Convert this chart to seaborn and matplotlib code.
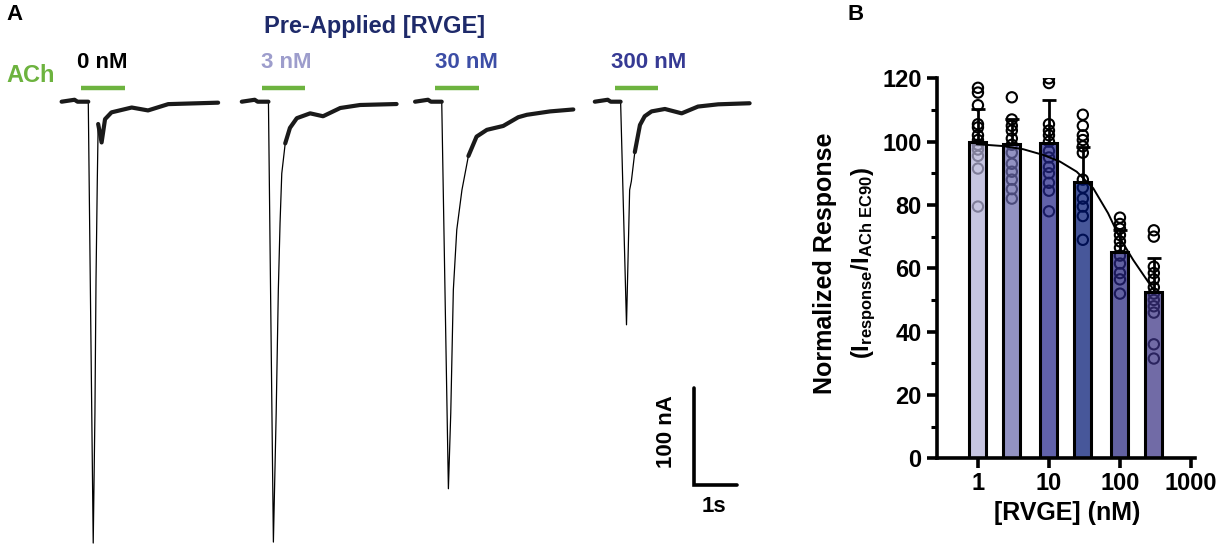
import numpy as np
import pandas as pd
import matplotlib
matplotlib.use("Agg")
import matplotlib.pyplot as plt
import matplotlib.ticker as mticker
import seaborn as sns

# ---------------- data : panel A (voltage-clamp traces) ----------------
# time (s) from start of each sweep, current (nA) relative to baseline
trace_labels = ["0 nM", "3 nM", "30 nM", "300 nM"]
trace_t = [
    [0, 0.30, 0.37, 0.62, 0.735, 0.775, 0.80, 0.83, 0.85, 0.93, 1.01, 1.16, 1.63, 2.01, 2.48, 3.64],
    [0, 0.30, 0.37, 0.62, 0.735, 0.80, 0.85, 0.89, 0.93, 1.01, 1.12, 1.28, 1.59, 1.89, 2.29, 2.75, 3.60],
    [0, 0.30, 0.37, 0.62, 0.775, 0.83, 0.89, 0.97, 1.09, 1.24, 1.43, 1.67, 2.05, 2.40, 2.60, 3.14, 3.68],
    [0, 0.30, 0.37, 0.60, 0.737, 0.81, 0.85, 0.93, 1.05, 1.16, 1.32, 1.63, 2.02, 2.40, 2.87, 3.60],
]
trace_i = [
    [0, 2, 0, 0, -455, -321, -184, -81, -23, -42, -18, -11, -6, -9, -2.5, -1],
    [0, 2, 0, 0, -454, -321, -194, -125, -74, -43, -27, -17, -12, -15, -6.5, -3.4, -2.4],
    [0, 2, 0, 0, -399, -321, -194, -132, -91, -56, -36, -29, -25, -16, -13.5, -10, -8],
    [0, 2, 0, 0, -230, -91, -82, -52, -24, -15, -10, -7.5, -12, -5, -2.7, -1.6],
]
ach_on, ach_off = 0.46, 1.48          # ACh application (s)
scale_nA, scale_s = 100, 1

# ---------------- data : panel B (concentration-response) ----------------
conc = [1, 3, 10, 30, 100, 300]
mean_resp = [100.0, 99.2, 99.5, 87.2, 65.0, 52.5]
sd_resp = [10.2, 8.0, 13.6, 11.0, 7.0, 10.7]
pts_1 = [117, 115.5, 111.5, 105.5, 104.5, 102, 100.5, 99, 97.5, 95.5, 91.5, 79.5]
pts_3 = [114, 107, 105, 103.5, 101, 99, 96.5, 93, 90.5, 88, 85, 82]
pts_10 = [120, 118.5, 105.5, 103.5, 102, 100, 97, 95, 92, 90, 87, 84.5, 78]
pts_30 = [108.5, 105, 102, 100.5, 98.5, 96.5, 88, 85.5, 82, 79.5, 76.5, 69]
pts_100 = [76, 74, 72.5, 70.5, 68.5, 66.5, 64, 61.5, 58.5, 56.5, 52]
pts_300 = [72, 70, 60.5, 58.5, 56.5, 54, 52, 50, 48, 46, 36, 31.5]
fit_x = [0.96, 2.27, 4.35, 8.3, 14.3, 24.6, 42, 68, 100, 154, 300]
fit_y = [99.2, 98.6, 97.6, 95.8, 93.7, 90.5, 85.3, 77.4, 69.5, 62.6, 53.1]

bar_colors = ["#c3c1e6", "#8a8acb", "#5557b6", "#3150aa", "#5856ae", "#6a62b0"]
label_colors = ["#000000", "#9d9dcc", "#3d4ea6", "#363a94"]
green = "#6db33f"
navy = "#1e2a6a"

# ---------------- style ----------------
sns.set_theme(style="ticks")
plt.rcParams["font.family"] = ["Liberation Sans", "DejaVu Sans"]
plt.rcParams["font.weight"] = "bold"
plt.rcParams["mathtext.fontset"] = "custom"
plt.rcParams["mathtext.rm"] = "Liberation Sans:bold"
plt.rcParams["mathtext.it"] = "Liberation Sans:bold"
plt.rcParams["mathtext.default"] = "rm"
for key in ["text.color", "axes.labelcolor", "xtick.color", "ytick.color", "axes.edgecolor"]:
    plt.rcParams[key] = "black"

W, H = 1226, 548
fig = plt.figure(figsize=(W / 100, H / 100), dpi=100)


def fx(px):
    return px / W


def fy(py):
    return 1 - py / H


# ================= Panel A =================
px_per_s, px_per_nA = 43.0, 0.97
a_left, a_right, a_top = 50, 760, 80
base_py = 101.7
axA = fig.add_axes([fx(a_left), 0, (a_right - a_left) / W, (H - a_top) / H])
axA.set_xlim(0, (a_right - a_left) / px_per_s)
axA.set_ylim(-(H - base_py) / px_per_nA, (base_py - a_top) / px_per_nA)
axA.axis("off")

sweep_start = [0.27, 4.46, 8.49, 12.67]
for k in range(4):
    t = np.array(trace_t[k]) + sweep_start[k]
    cur = np.array(trace_i[k], dtype=float)
    df = pd.DataFrame({"t": t, "i": cur})
    sns.lineplot(data=df, x="t", y="i", estimator=None, sort=False,
                 color="black", lw=0.9, ax=axA)
    # noisy slow parts drawn thicker
    quiet = cur > -70
    runs = np.split(np.arange(len(cur)), np.where(np.diff(quiet.astype(int)) != 0)[0] + 1)
    for r in runs:
        if quiet[r[0]] and len(r) > 1:
            sns.lineplot(data=df.iloc[r], x="t", y="i", estimator=None, sort=False,
                         color="#1a1a1a", lw=3.0, ax=axA)
    axA.plot([sweep_start[k] + ach_on, sweep_start[k] + ach_off], [14.4, 14.4],
             color=green, lw=3.2, solid_capstyle="butt")

# scale bar
sb_t, sb_i = 14.98, -395
axA.plot([sb_t, sb_t, sb_t + scale_s], [sb_i + scale_nA, sb_i, sb_i],
         color="black", lw=2.6, solid_joinstyle="miter")
axA.set_xlabel("")
axA.set_ylabel("")

fig.text(fx(14), fy(14), "A", fontsize=16, fontweight="bold", ha="center", va="center")
fig.text(fx(375), fy(27), "Pre-Applied [RVGE]", fontsize=17, fontweight="bold",
         color=navy, ha="center", va="center")
fig.text(fx(31), fy(76), "ACh", fontsize=17, fontweight="bold", color=green,
         ha="center", va="center")
label_x = [102, 286, 466, 649]
for lx, lab, col in zip(label_x, trace_labels, label_colors):
    fig.text(fx(lx), fy(63), lab, fontsize=16, fontweight="bold", color=col,
             ha="center", va="center")
fig.text(fx(667), fy(432), f"{scale_nA} nA", fontsize=16, fontweight="bold",
         rotation=90, ha="center", va="center")
fig.text(fx(714), fy(507), f"{scale_s}s", fontsize=16, fontweight="bold",
         ha="center", va="center")

# ================= Panel B =================
b_left, b_right, b_top, b_bottom = 937, 1195, 78.3, 458.3
axB = fig.add_axes([fx(b_left), fy(b_bottom), (b_right - b_left) / W, (b_bottom - b_top) / H])

pts = [pts_1, pts_3, pts_10, pts_30, pts_100, pts_300]
pts_df = pd.DataFrame({
    "conc": np.concatenate([[c] * len(p) for c, p in zip(conc, pts)]),
    "resp": np.concatenate(pts),
})
bar_df = pd.DataFrame({"conc": conc, "resp": mean_resp,
                       "lab": [str(c) for c in conc]})

sns.barplot(data=bar_df, x="conc", y="resp", hue="lab",
            palette=dict(zip(bar_df["lab"], bar_colors)), native_scale=True,
            log_scale=(True, False), width=0.5, errorbar=None, legend=False,
            edgecolor="black", linewidth=2.2, ax=axB, zorder=2)
# bars slightly see-through so the points behind them show; compensate colour
bar_alpha = 0.72
for p in axB.patches:
    rgb = np.array(p.get_facecolor()[:3])
    face = np.clip((rgb - (1 - bar_alpha)) / bar_alpha, 0, 1)
    p.set_facecolor((*face, bar_alpha))
    p.set_edgecolor((0, 0, 0, 1))

sns.scatterplot(data=pts_df, x="conc", y="resp", marker="o", s=55,
                facecolor="none", edgecolor="black", linewidth=1.5,
                ax=axB, zorder=1, legend=False)
axB.errorbar(conc, mean_resp, yerr=[np.zeros(len(sd_resp)), sd_resp], fmt="none",
             ecolor="black", elinewidth=2, capsize=5, capthick=2, zorder=3)
sns.lineplot(x=fit_x, y=fit_y, color="black", lw=1.4, estimator=None,
             ax=axB, zorder=4)

axB.set_xscale("log")
axB.set_xlim(0.265, 1140)
axB.set_ylim(0, 120)
axB.xaxis.set_major_locator(mticker.FixedLocator([1, 10, 100, 1000]))
axB.xaxis.set_major_formatter(mticker.FixedFormatter(["1", "10", "100", "1000"]))
axB.xaxis.set_minor_locator(mticker.LogLocator(base=10, subs=np.arange(2, 10)))
axB.xaxis.set_minor_formatter(mticker.NullFormatter())
axB.yaxis.set_major_locator(mticker.MultipleLocator(20))
axB.yaxis.set_minor_locator(mticker.MultipleLocator(10))
sns.despine(ax=axB)
for s in ["left", "bottom"]:
    axB.spines[s].set_linewidth(2.6)
axB.tick_params(which="major", length=7, width=2.6, labelsize=17, pad=4)
axB.tick_params(axis="x", which="major", pad=3)
axB.tick_params(which="minor", length=4, width=2.2)
for lab in axB.get_xticklabels() + axB.get_yticklabels():
    lab.set_fontweight("bold")
axB.set_xlabel("")
axB.set_ylabel("")

fig.text(fx(1067), fy(513), "[RVGE] (nM)", fontsize=18, fontweight="bold",
         ha="center", va="center")
fig.text(fx(825), fy(263), "Normalized Response", fontsize=18, fontweight="bold",
         rotation=90, ha="center", va="center")
fig.text(fx(864), fy(263), r"(I$_{\mathrm{response}}$/I$_{\mathrm{ACh\ EC90}}$)",
         fontsize=17, fontweight="bold", rotation=90, ha="center", va="center")
fig.text(fx(856), fy(14), "B", fontsize=16, fontweight="bold", ha="center", va="center")

fig.savefig("out.png", dpi=100)
